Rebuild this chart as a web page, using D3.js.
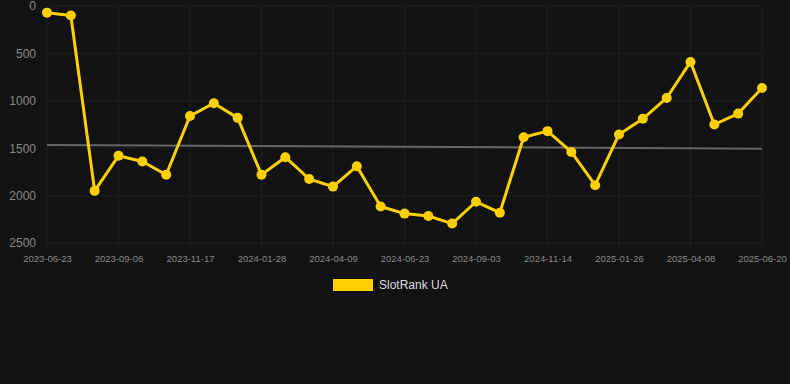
<!DOCTYPE html>
<html>
<head>
<meta charset="utf-8">
<script src="https://cdn.jsdelivr.net/npm/d3@7"></script>
<style>
  body { margin: 0; background: #121212; }
  svg { display: block; font-family: "Helvetica", "Liberation Sans", Arial, sans-serif; }
</style>
</head>
<body>
<div id="chart-area"></div>
<script>
const WIDTH = 790
const HEIGHT = 384
const MARGIN = { LEFT: 47, RIGHT: 28, TOP: 6, BOTTOM: 141 }

// categories (every 3rd one gets a label)
const dates = [
  "2023-06-23", "2023-07-18", "2023-08-12", "2023-09-06", "2023-09-30", "2023-10-24",
  "2023-11-17", "2023-12-11", "2024-01-04", "2024-01-28", "2024-02-21", "2024-03-16",
  "2024-04-09", "2024-05-04", "2024-05-29", "2024-06-23", "2024-07-17", "2024-08-10",
  "2024-09-03", "2024-09-27", "2024-10-21", "2024-11-14", "2024-12-08", "2025-01-01",
  "2025-01-26", "2025-02-19", "2025-03-15", "2025-04-08", "2025-05-02", "2025-05-26",
  "2025-06-20"
]
const rank = [
  70, 100, 1950, 1580, 1640, 1780,
  1160, 1025, 1180, 1780, 1595, 1825,
  1905, 1690, 2115, 2190, 2215, 2295,
  2065, 2180, 1385, 1320, 1540, 1890,
  1355, 1190, 970, 590, 1250, 1135,
  865
]
const trend = [1466, 1505]
const yTicks = [0, 500, 1000, 1500, 2000, 2500]
const seriesName = "SlotRank UA"

const svg = d3.select("#chart-area").append("svg")
  .attr("width", WIDTH)
  .attr("height", HEIGHT)

const innerW = WIDTH - MARGIN.LEFT - MARGIN.RIGHT
const innerH = HEIGHT - MARGIN.TOP - MARGIN.BOTTOM

const g = svg.append("g")
  .attr("transform", `translate(${MARGIN.LEFT}, ${MARGIN.TOP})`)

// scales
const x = d3.scalePoint().domain(dates).range([0, innerW])
const y = d3.scaleLinear().domain([0, 2500]).range([0, innerH])

// grid
g.append("g").selectAll("line")
  .data(yTicks)
  .join("line")
  .attr("x1", 0).attr("x2", innerW)
  .attr("y1", d => y(d)).attr("y2", d => y(d))
  .attr("stroke", "#1f1f1f")
  .attr("stroke-width", 1)

const labelled = dates.filter((d, i) => i % 3 === 0)
g.append("g").selectAll("line")
  .data(labelled)
  .join("line")
  .attr("x1", d => x(d)).attr("x2", d => x(d))
  .attr("y1", 0).attr("y2", innerH + 5)
  .attr("stroke", "#1f1f1f")
  .attr("stroke-width", 1)

// axes
const yAxis = g.append("g")
  .call(d3.axisLeft(y).tickValues(yTicks).tickFormat(d3.format("d")).tickSize(0).tickPadding(11))
yAxis.select(".domain").remove()
yAxis.selectAll("text")
  .attr("fill", "#888")
  .style("font-size", "12px")

const xAxis = g.append("g")
  .attr("transform", `translate(0, ${innerH})`)
  .call(d3.axisBottom(x).tickValues(labelled).tickSize(0).tickPadding(12))
xAxis.select(".domain").remove()
xAxis.selectAll("text")
  .attr("fill", "#888")
  .style("font-size", "9.5px")

// trend line
g.append("line")
  .attr("x1", x(dates[0])).attr("x2", x(dates[dates.length - 1]))
  .attr("y1", y(trend[0])).attr("y2", y(trend[1]))
  .attr("stroke", "#666")
  .attr("stroke-width", 2)

// series line
const line = d3.line()
  .x((d, i) => x(dates[i]))
  .y(d => y(d))

g.append("path")
  .attr("d", line(rank))
  .attr("fill", "none")
  .attr("stroke", "#FFD000")
  .attr("stroke-width", 3)
  .attr("stroke-linejoin", "round")

g.append("g").selectAll("circle")
  .data(rank)
  .join("circle")
  .attr("cx", (d, i) => x(dates[i]))
  .attr("cy", d => y(d))
  .attr("r", 5)
  .attr("fill", "#FFD000")

// legend
const legend = svg.append("g")
  .attr("transform", "translate(333, 279)")
legend.append("rect")
  .attr("width", 40)
  .attr("height", 12)
  .attr("fill", "#FFD000")
legend.append("text")
  .attr("x", 46)
  .attr("y", 10)
  .attr("fill", "#ddd")
  .style("font-size", "12px")
  .text(seriesName)
</script>
</body>
</html>
